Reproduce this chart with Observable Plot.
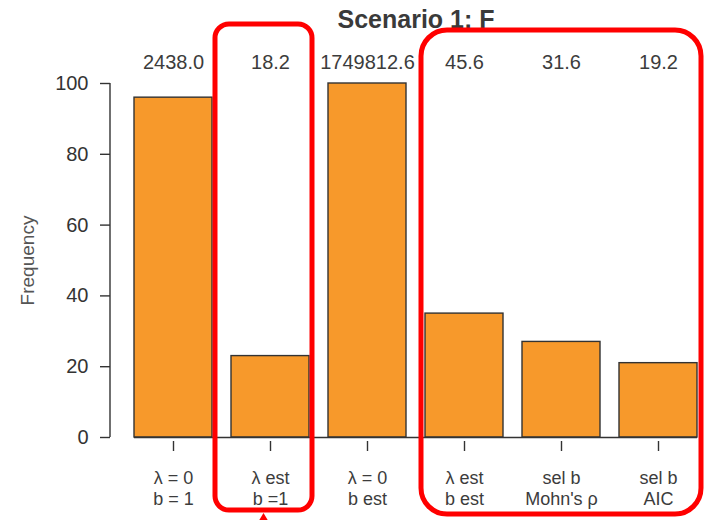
<!DOCTYPE html>
<html>
<head>
<meta charset="utf-8">
<script src="https://cdn.jsdelivr.net/npm/d3@7"></script>
<script src="https://cdn.jsdelivr.net/npm/@observablehq/plot@0.6"></script>
<style>
  html, body { margin: 0; padding: 0; background: #fff; }
  svg { display: block; }
</style>
</head>
<body>
<div id="chart"></div>
<script>
// ---- data ----
const title = "Scenario 1: F";
const yLabel = "Frequency";
const categories = ["λ = 0\nb = 1", "λ est\nb =1", "λ = 0\nb est", "λ est\nb est", "sel b\nMohn's ρ", "sel b\nAIC"];
const frequency = [96, 23, 100, 35, 27, 21];
const topLabels = ["2438.0", "18.2", "1749812.6", "45.6", "31.6", "19.2"];
const yTicks = [0, 20, 40, 60, 80, 100];
// highlighted groups (first and last category index)
const highlightGroups = [[1, 1], [3, 5]];

const data = categories.map((c, i) => ({cat: c, freq: frequency[i], label: topLabels[i]}));

const ink = "#333";
const plot = Plot.plot({
  width: 704,
  height: 520,
  marginLeft: 134,
  marginRight: 7,
  marginTop: 83,
  marginBottom: 83,
  style: {fontFamily: "'Liberation Sans', Arial, sans-serif", color: ink, background: "#fff", overflow: "visible"},
  x: {domain: categories, paddingInner: 0.2, paddingOuter: 0, label: null},
  y: {domain: [0, 100], label: null},
  marks: [
    Plot.barY(data, {x: "cat", y: "freq", fill: "#F7992B", stroke: ink, strokeWidth: 1.4}),
    Plot.ruleY([0], {stroke: ink, strokeWidth: 1.4}),
    Plot.axisY({ticks: yTicks, tickSize: 10, tickPadding: 12, dx: -24, fontSize: 20, label: null, strokeWidth: 1.4}),
    Plot.axisX({tickSize: 10, dy: 4, tickFormat: () => "", label: null, strokeWidth: 1.4}),
    Plot.text(data, {x: "cat", text: "cat", frameAnchor: "bottom", lineAnchor: "top", dy: 31, fontSize: 18, lineHeight: 1.2, fill: "#3c3c3c"}),
    Plot.text(data, {x: "cat", text: "label", frameAnchor: "top", lineAnchor: "middle", dy: -20.5, fontSize: 20, fill: "#3c3c3c"}),
    Plot.text([title], {frameAnchor: "top", lineAnchor: "middle", dy: -64, fontSize: 25, fontWeight: "bold", fill: "#3a3a3a"}),
    Plot.text([yLabel], {frameAnchor: "left", textAnchor: "middle", rotate: -90, dx: -107, fontSize: 19, fill: "#555"})
  ]
});

document.getElementById("chart").appendChild(plot);

// axis line for y (R-style)
const xs = plot.scale("x");
const ys = plot.scale("y");
const svg = d3.select(plot);
const yTop = ys.apply(d3.max(yTicks));
const yBot = ys.apply(0);
const axisX = xs.apply(categories[0]) - 24;
svg.append("line")
  .attr("x1", axisX).attr("x2", axisX)
  .attr("y1", yTop).attr("y2", yBot)
  .attr("stroke", ink).attr("stroke-width", 1.4);

// red highlight annotations
const bw = xs.bandwidth;
const specs = [
  {padL: 16, padR: 3, top: 59, bottom: 73, r: 14},
  {padL: 4, padR: 4, top: 53, bottom: 77, r: 26}
];
highlightGroups.forEach(([a, b], i) => {
  const s = specs[i];
  const x0 = xs.apply(categories[a]) - s.padL;
  const x1 = xs.apply(categories[b]) + bw + s.padR;
  svg.append("rect")
    .attr("x", x0).attr("y", yTop - s.top)
    .attr("width", x1 - x0).attr("height", (yBot + s.bottom) - (yTop - s.top))
    .attr("rx", s.r).attr("ry", s.r)
    .attr("fill", "none").attr("stroke", "#f00").attr("stroke-width", 5);
});
// arrow tip below first highlight
{
  const [a, b] = highlightGroups[0];
  const s = specs[0];
  const cx = (xs.apply(categories[a]) - s.padL + xs.apply(categories[b]) + bw + s.padR) / 2;
  const tipY = yBot + s.bottom + 3;
  svg.append("path")
    .attr("d", `M${cx},${tipY} L${cx - 6},${tipY + 10} L${cx + 6},${tipY + 10} Z`)
    .attr("fill", "#f00");
}
</script>
</body>
</html>
